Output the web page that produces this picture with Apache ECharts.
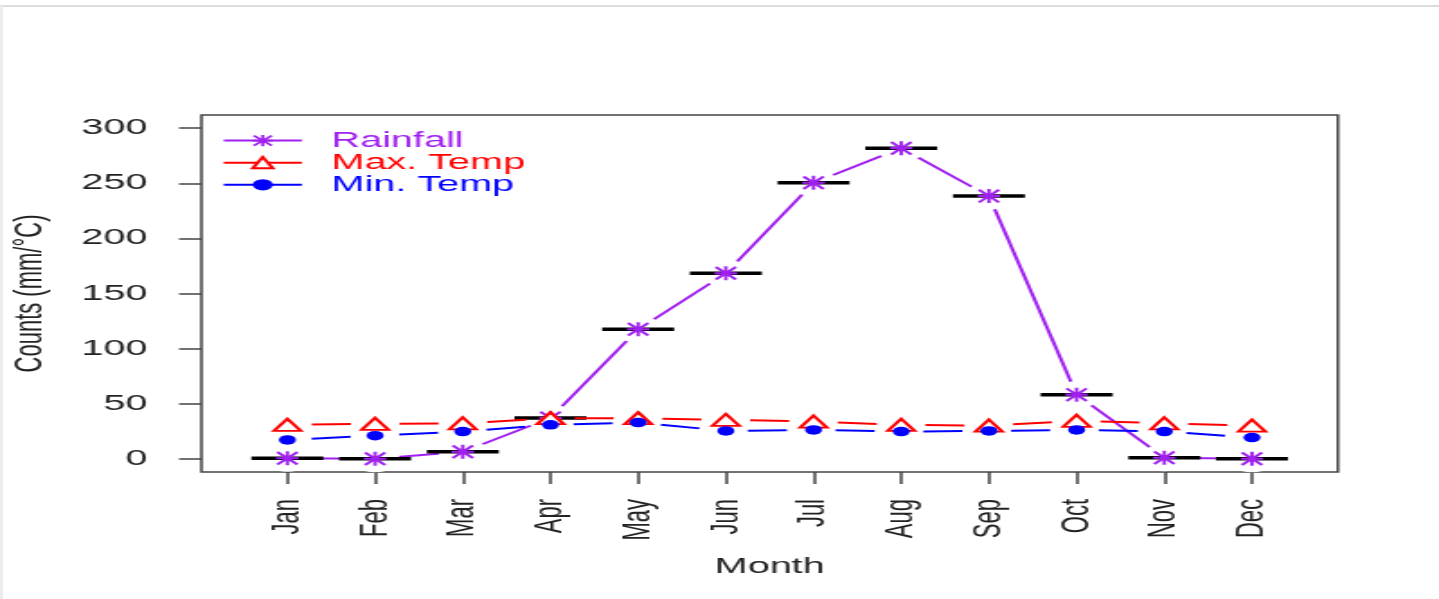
<!DOCTYPE html>
<html>
<head>
<meta charset="utf-8">
<script src="https://cdn.jsdelivr.net/npm/echarts@6/dist/echarts.min.js"></script>
<style>
  html, body { margin: 0; padding: 0; background: #fff; overflow: hidden; }
  #frame { position: absolute; left: 0; top: 5px; width: 1439px; height: 594px;
           border-top: 2px solid #dcdcdc; border-left: 3px solid #ececec; box-sizing: border-box; }
  /* the reference is an R plot stretched sideways, so draw narrow and stretch */
  #main { position: absolute; left: 0; top: 0; width: 800px; height: 599px;
          transform: scaleX(1.79875); transform-origin: 0 0; }
</style>
</head>
<body>
<div id="frame"></div>
<div id="main"></div>
<script>
// data
const months = ['Jan', 'Feb', 'Mar', 'Apr', 'May', 'Jun', 'Jul', 'Aug', 'Sep', 'Oct', 'Nov', 'Dec'];
const rainfall = [0.5, 0, 6.4, 37, 117.5, 168.3, 250.5, 281.9, 238.4, 58.2, 1, 0];
const maxTemp = [30.8, 31.7, 32.2, 36.8, 36.8, 35.3, 33.8, 30.8, 30.1, 34.4, 32.2, 30.1];
const minTemp = [17.1, 21.0, 24.7, 30.8, 32.9, 25.3, 26.2, 24.7, 25.3, 26.2, 24.7, 19.2];
const yTicks = [0, 50, 100, 150, 200, 250, 300];
const monthPos = months.map((m, i) => i + 1);

const FONT = 'Liberation Sans, Arial, sans-serif';
const PURPLE = '#A020F0';
// asterisk (R pch 8)
const STAR = 'path://M0 8.5L20 8.5L20 11.5L0 11.5Z M8.5 0L11.5 0L11.5 20L8.5 20Z M0 2.1L2.1 0L20 17.9L17.9 20Z M17.9 0L20 2.1L2.1 20L0 17.9Z';

const toPts = arr => arr.map((v, i) => [monthPos[i], v]);

const chart = echarts.init(document.getElementById('main'));

chart.setOption({
  animation: false,
  backgroundColor: 'transparent',
  grid: {
    left: 112, right: 56.2, top: 115, bottom: 127,
    show: true, borderColor: '#444', borderWidth: 1.5,
    outerBoundsMode: 'none'
  },
  legend: {
    data: [
      { name: 'Rainfall', textStyle: { color: PURPLE } },
      { name: 'Max. Temp', textStyle: { color: '#FF0000' } },
      { name: 'Min. Temp', textStyle: { color: '#0000FF' } }
    ],
    orient: 'vertical',
    left: 123.4, top: 129.6, padding: 0,
    itemWidth: 43.4, itemHeight: 14, itemGap: 0.1,
    lineStyle: { type: 'solid' },
    textStyle: { fontSize: 22, fontFamily: FONT, padding: [0, 0, 0, 11.5] }
  },
  xAxis: {
    type: 'value', min: 0.02, max: 12.98,
    splitLine: { show: false },
    axisLine: { show: false, onZero: false },
    axisTick: { show: true, customValues: monthPos, length: 12, lineStyle: { color: '#444', width: 1.5 } },
    axisLabel: {
      customValues: monthPos, rotate: 90, margin: 27,
      formatter: v => months[Math.round(v) - 1],
      fontSize: 22, fontFamily: FONT, color: '#222'
    },
    name: 'Month', nameLocation: 'middle', nameGap: 84,
    nameTextStyle: { fontSize: 22, fontFamily: FONT, color: '#222' }
  },
  yAxis: {
    type: 'value', min: -12, max: 312,
    splitLine: { show: false },
    axisLine: { show: false, onZero: false },
    axisTick: { show: true, customValues: yTicks, length: 12.5, lineStyle: { color: '#444', width: 1.5 } },
    axisLabel: { customValues: yTicks, margin: 30, fontSize: 22, fontFamily: FONT, color: '#222' },
    name: 'Counts (mm/°C)', nameLocation: 'middle', nameGap: 84,
    nameTextStyle: { fontSize: 22, fontFamily: FONT, color: '#222' }
  },
  series: [
    {
      name: 'Rainfall', type: 'line', data: toPts(rainfall),
      symbol: STAR, symbolSize: [12.5, 14],
      itemStyle: { color: PURPLE },
      lineStyle: { color: PURPLE, width: 2 },
      z: 2
    },
    {
      // white gaps round the points, like R type = "b"
      name: 'gap', type: 'scatter', data: toPts(rainfall),
      symbol: 'circle', symbolSize: 27,
      itemStyle: { color: '#fff', opacity: 1 }, silent: true, z: 3
    },
    {
      name: 'bars', type: 'scatter', data: toPts(rainfall),
      symbol: 'rect', symbolSize: [40, 3.5],
      itemStyle: { color: '#000', opacity: 1 }, silent: true, z: 4
    },
    {
      name: 'rainPts', type: 'scatter', data: toPts(rainfall),
      symbol: STAR, symbolSize: [12.5, 14],
      itemStyle: { color: PURPLE, opacity: 1 }, z: 5
    },
    {
      name: 'Max. Temp', type: 'line', data: toPts(maxTemp),
      symbol: 'emptyTriangle', symbolSize: [15, 12],
      itemStyle: { color: '#FF0000', borderWidth: 2 },
      lineStyle: { color: '#FF0000', width: 2, type: [21.7, 27.1], dashOffset: 35.25 },
      z: 6
    },
    {
      name: 'Min. Temp', type: 'line', data: toPts(minTemp),
      symbol: 'circle', symbolSize: 9.5,
      itemStyle: { color: '#0000FF' },
      lineStyle: { color: '#0000FF', width: 2, type: [21.7, 27.1], dashOffset: 35.25 },
      z: 6
    }
  ]
});
</script>
</body>
</html>
